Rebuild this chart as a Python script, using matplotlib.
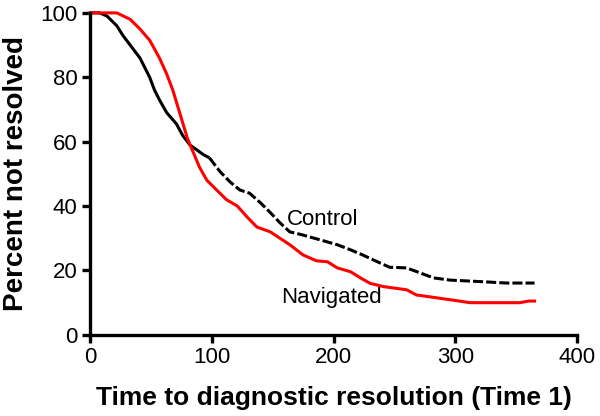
import matplotlib
matplotlib.use("Agg")
import matplotlib.pyplot as plt

# Datos (días, porcentaje no resuelto)
control_t = [0, 8, 14, 22, 27, 34, 41, 45, 49, 53, 57, 63, 71, 76, 82, 93, 98,
             107, 115, 123, 131, 140, 148, 156, 164, 175, 189, 203, 214, 224,
             236, 246, 260, 282, 296, 323, 342, 365]
control_y = [100, 100, 99, 96, 93, 89.5, 86, 83, 80, 76, 73, 69, 65.5, 62, 59,
             56, 55, 50.6, 47.5, 45, 44, 41, 38, 34.8, 32, 31, 29.5, 28, 26.4,
             24.8, 22.7, 21, 20.8, 17.7, 17, 16.5, 16.1, 16.1]

navigated_t = [0, 22, 33, 41, 49, 57, 63, 68, 72, 76, 80, 85, 90, 96, 104, 112,
               121, 129, 137, 148, 156, 164, 175, 186, 195, 203, 214, 222, 230,
               241, 260, 268, 296, 312, 353, 360, 365]
navigated_y = [100, 100, 98, 95, 91.5, 86, 81, 76, 71, 66, 61, 56.5, 52, 48, 45,
               42, 40, 36.6, 33.5, 32, 30, 28, 24.8, 23, 22.7, 20.8, 19.6, 17.7,
               16, 15, 14, 12.4, 10.9, 10, 10, 10.5, 10.5]

x_ticks = [0, 100, 200, 300, 400]
y_ticks = [0, 20, 40, 60, 80, 100]

plt.rcParams['font.family'] = ['Liberation Sans', 'DejaVu Sans']

fig = plt.figure(figsize=(6, 4.16), dpi=100)
ax = fig.add_axes([0.15, 0.195, 0.812, 0.774])

# Control: continuo al principio, discontinuo después
corte = 16
ax.plot(control_t[:corte + 1], control_y[:corte + 1], color='black', lw=2.2,
        clip_on=False, solid_capstyle='butt')
ax.plot(control_t[corte:], control_y[corte:], color='black', lw=2.2,
        dashes=(3.3, 1), clip_on=False)
ax.plot(navigated_t, navigated_y, color='#ff0000', lw=2.2, clip_on=False)

ax.text(162, 35.7, 'Control', fontsize=16, va='center', ha='left')
ax.text(157, 11.5, 'Navigated', fontsize=16, va='center', ha='left')

ax.set_xlim(0, 400)
ax.set_ylim(0, 100)
ax.set_xticks(x_ticks)
ax.set_yticks(y_ticks)
for s in ['top', 'right']:
    ax.spines[s].set_visible(False)
for s in ['left', 'bottom']:
    ax.spines[s].set_linewidth(2.4)
ax.tick_params(direction='out', length=6, width=2.4, labelsize=16, pad=3)

ax.set_xlabel('Time to diagnostic resolution (Time 1)', fontsize=19,
              fontweight='bold', labelpad=13)
ax.set_ylabel('Percent not resolved', fontsize=20, fontweight='bold',
              labelpad=8)

fig.savefig('out.png', dpi=100)
